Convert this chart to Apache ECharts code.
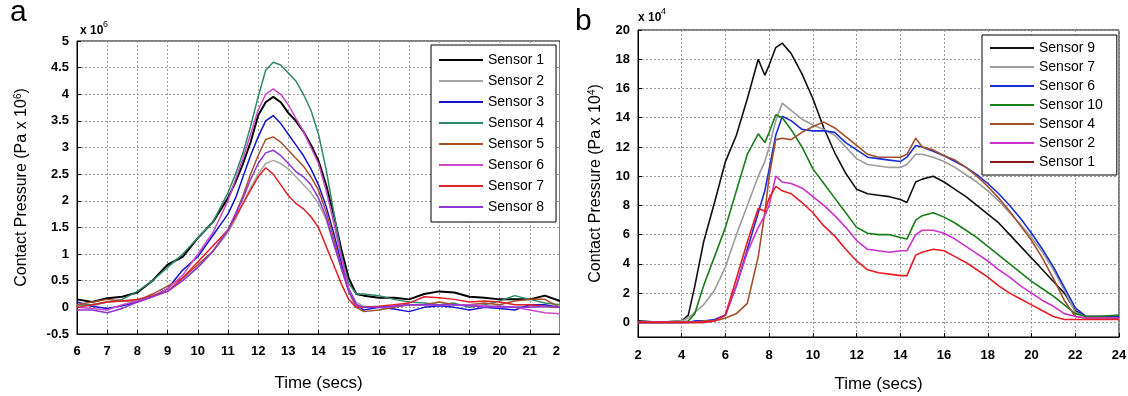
<!DOCTYPE html>
<html><head><meta charset="utf-8">
<script src="https://cdn.jsdelivr.net/npm/echarts@6/dist/echarts.min.js"></script>
<style>
html,body{margin:0;padding:0;background:#fff;width:1128px;height:396px;overflow:hidden;position:relative}
#a{position:absolute;left:0;top:0;width:562px;height:396px}
#b{position:absolute;left:560px;top:0;width:568px;height:396px}
</style>
</head><body><div id="a"></div><div id="b"></div>
<script>
// ---------- Panel a data (Pa x 10^6) ----------
const timeA = [6,6.5,7,7.5,8,8.5,9,9.5,10,10.5,11,11.25,11.5,11.75,12,12.25,12.5,12.75,13,13.25,13.5,13.75,14,14.25,14.5,14.75,15,15.25,15.5,16,16.5,17,17.5,18,18.5,19,19.5,20,20.5,21,21.5,22];
const namesA = ["Sensor 1","Sensor 2","Sensor 3","Sensor 4","Sensor 5","Sensor 6","Sensor 7","Sensor 8"];
const a_s1 = [0.15,0.1,0.17,0.2,0.28,0.5,0.8,0.95,1.3,1.6,2.05,2.35,2.7,3.1,3.6,3.85,3.95,3.85,3.65,3.5,3.3,3.05,2.75,2.3,1.75,1.1,0.55,0.25,0.22,0.18,0.18,0.15,0.25,0.3,0.28,0.2,0.18,0.15,0.15,0.15,0.22,0.12];
const a_s2 = [0.05,0.02,0.1,0.12,0.15,0.2,0.3,0.5,0.75,1.05,1.4,1.65,1.95,2.25,2.5,2.7,2.76,2.7,2.6,2.45,2.3,2.15,1.95,1.65,1.2,0.75,0.35,0.1,0.02,0.0,0.02,0.05,0.05,0.05,0.05,0.05,0.03,0.02,0.0,0.02,0.0,0.0];
const a_s3 = [0.1,0.02,-0.02,0.03,0.1,0.2,0.35,0.7,0.95,1.35,1.75,2.05,2.45,2.85,3.2,3.5,3.6,3.45,3.25,3.05,2.85,2.6,2.3,1.9,1.4,0.85,0.35,0.05,-0.05,0.0,-0.03,-0.08,0.0,0.03,0.0,-0.05,0.0,-0.02,-0.05,0.05,0.05,0.0];
const a_s4 = [0.05,0.05,0.1,0.15,0.3,0.5,0.75,1.0,1.3,1.6,2.15,2.5,2.9,3.4,3.95,4.45,4.6,4.55,4.4,4.25,4.0,3.7,3.25,2.6,1.8,1.0,0.45,0.25,0.25,0.22,0.15,0.1,0.08,0.05,0.08,0.0,0.05,0.12,0.22,0.15,0.08,0.05];
const a_s5 = [0.05,0.1,0.15,0.12,0.12,0.25,0.4,0.55,0.8,1.05,1.45,1.75,2.1,2.5,2.85,3.15,3.2,3.1,2.95,2.8,2.65,2.45,2.2,1.8,1.3,0.75,0.3,0.0,-0.08,-0.05,0.0,0.05,0.05,0.1,0.05,0.05,0.08,0.05,0.12,0.15,0.15,0.0];
const a_s6 = [0.0,-0.02,-0.05,0.05,0.12,0.2,0.35,0.6,1.0,1.4,2.0,2.4,2.8,3.25,3.7,4.0,4.1,4.0,3.8,3.55,3.3,3.0,2.7,2.2,1.6,0.95,0.35,0.05,0.0,0.0,0.02,0.05,0.05,0.05,0.05,0.05,0.03,0.0,0.0,-0.05,-0.1,-0.12];
const a_s7 = [0.0,0.05,0.1,0.12,0.15,0.22,0.3,0.55,0.85,1.15,1.45,1.7,1.95,2.2,2.45,2.62,2.5,2.3,2.1,1.95,1.85,1.7,1.5,1.15,0.8,0.45,0.15,0.0,0.0,0.02,0.05,0.08,0.2,0.18,0.15,0.1,0.12,0.1,0.05,0.05,0.02,0.0];
const a_s8 = [-0.05,-0.05,-0.1,-0.02,0.1,0.2,0.3,0.5,0.75,1.05,1.45,1.75,2.05,2.4,2.7,2.9,2.95,2.85,2.7,2.55,2.45,2.3,2.05,1.7,1.2,0.75,0.3,0.05,0.0,0.0,0.02,0.05,0.05,0.05,0.05,0.03,0.0,0.02,0.0,0.0,0.02,0.0];

// ---------- Panel b data (Pa x 10^4) ----------
const timeB = [2,3,4,4.3,4.6,5,5.5,6,6.5,7,7.5,7.8,8,8.3,8.6,9,9.5,10,10.5,11,11.5,12,12.5,13,13.5,14,14.3,14.7,15,15.5,16,16.5,17,17.5,18,18.5,19,19.5,20,20.5,21,21.5,22,22.5,23,24];
const namesB = ["Sensor 9","Sensor 7","Sensor 6","Sensor 10","Sensor 4","Sensor 2","Sensor 1"];
const b_s9 = [0.1,0.0,0.1,0.5,2.5,5.5,8.2,11.0,12.8,15.3,18.0,16.9,17.6,18.8,19.1,18.4,17.0,15.3,13.3,11.6,10.2,9.1,8.8,8.7,8.6,8.4,8.2,9.6,9.8,10.0,9.6,9.1,8.6,8.0,7.4,6.8,6.0,5.2,4.4,3.6,2.8,2.0,0.8,0.4,0.4,0.4];
const b_s7 = [0.0,0.0,0.1,0.3,0.7,1.2,2.2,3.8,6.0,8.0,10.0,11.0,12.0,13.8,15.0,14.5,13.9,13.5,13.2,12.8,12.0,11.2,10.8,10.7,10.6,10.6,10.8,11.5,11.5,11.3,11.0,10.6,10.1,9.6,9.0,8.3,7.5,6.7,5.8,4.8,3.6,2.2,0.7,0.4,0.4,0.3];
const b_s6 = [0.0,0.0,0.0,0.0,0.1,0.1,0.2,0.5,2.5,5.0,7.5,9.0,10.5,12.8,14.1,13.8,13.2,13.1,13.1,13.0,12.3,11.8,11.3,11.2,11.1,11.0,11.3,12.1,12.0,11.7,11.4,11.0,10.6,10.1,9.5,8.8,8.0,7.1,6.1,5.0,3.8,2.4,1.0,0.4,0.4,0.4];
const b_s10 = [0.0,0.0,0.0,0.1,0.6,2.5,4.5,6.5,9.0,11.5,12.9,12.3,13.0,14.2,14.0,13.2,12.0,10.5,9.5,8.5,7.5,6.5,6.1,6.0,6.0,5.8,5.7,7.0,7.3,7.5,7.2,6.8,6.3,5.8,5.2,4.6,4.0,3.4,2.8,2.3,1.8,1.2,0.6,0.4,0.4,0.5];
const b_s4 = [0.0,0.0,0.0,0.0,0.0,0.1,0.1,0.3,0.6,1.3,4.5,7.5,10.0,12.5,12.6,12.5,13.0,13.4,13.7,13.3,12.7,12.1,11.5,11.3,11.3,11.3,11.5,12.6,12.0,11.8,11.4,11.1,10.6,10.0,9.3,8.5,7.6,6.6,5.6,4.4,3.0,1.5,0.4,0.3,0.3,0.3];
const b_s2 = [0.0,0.0,0.0,0.0,0.0,0.0,0.1,0.5,2.5,4.8,6.5,7.3,8.0,10.0,9.6,9.5,9.2,8.6,8.0,7.3,6.5,5.6,5.0,4.9,4.8,4.9,4.9,6.0,6.3,6.3,6.1,5.7,5.2,4.7,4.2,3.6,3.1,2.5,2.0,1.5,1.1,0.6,0.4,0.3,0.3,0.3];
const b_s1 = [0.0,0.0,0.0,0.0,0.0,0.0,0.1,0.5,3.0,5.5,7.8,7.6,8.5,9.3,9.0,8.8,8.2,7.5,6.6,5.9,5.0,4.2,3.6,3.4,3.3,3.2,3.2,4.6,4.8,5.0,4.9,4.5,4.1,3.6,3.1,2.5,2.0,1.6,1.2,0.8,0.4,0.2,0.2,0.2,0.2,0.2];
const ticksB_y = [0,2,4,6,8,10,12,14,16,18,20];

// ---------- styles ----------
const FONT = "'Liberation Sans', Arial, sans-serif";
const colorsA = ["#000000","#a6a6a6","#1414d2","#2f8a68","#a3502a","#cc48cc","#e3202a","#8e36d6"];
const widthsA = [2,1.5,1.5,1.5,1.5,1.5,1.5,1.5];
const colorsB = ["#111111","#9c9c9c","#1a2ed8","#1a7d1a","#a3502a","#cc33cc","#e81c24"];

function zip(t, v){ return t.map((x,i)=>[x, v[i]]); }

function axisCommon(margin){
  return {
    axisLine:{show:true, onZero:false, lineStyle:{color:'#000', width:1}},
    axisTick:{show:true, inside:true, length:4, lineStyle:{color:'#000'}},
    axisLabel:{color:'#000', fontFamily:FONT, fontSize:13, fontWeight:'bold', margin:margin},
    splitLine:{show:true, lineStyle:{color:'#9a9a9a', width:1, type:[2,2]}}
  };
}

// ---------- Chart a ----------
const chA = echarts.init(document.getElementById('a'), null, {renderer:'canvas'});
const seriesValsA = [a_s1,a_s2,a_s3,a_s4,a_s5,a_s6,a_s7,a_s8];
chA.setOption({
  animation:false,
  backgroundColor:'#fff',
  grid:{left:77, top:41, width:483, height:293, show:true, borderColor:'#000', borderWidth:1,
        backgroundColor:'transparent', outerBoundsMode:'none', containLabel:false},
  xAxis:Object.assign(axisCommon(11), {
    type:'value', min:6, max:22, interval:1,
    name:'Time (secs)', nameLocation:'middle', nameGap:41,
    nameTextStyle:{color:'#000', fontFamily:FONT, fontSize:17}
  }),
  yAxis:Object.assign(axisCommon(8), {
    type:'value', min:-0.5, max:5, interval:0.5,
    name:'Contact Pressure (Pa x 10{sup|6})', nameLocation:'middle', nameGap:46,
    nameTextStyle:{color:'#000', fontFamily:FONT, fontSize:16,
      rich:{sup:{fontSize:10, verticalAlign:'bottom', padding:[0,0,8,0], fontFamily:FONT, color:'#000'}}}
  }),
  legend:{
    data:namesA, orient:'vertical', left:431, top:45,
    itemWidth:44, itemHeight:14, itemGap:7,
    itemStyle:{opacity:0},
    borderColor:'#000', borderWidth:1, padding:[8,12,8,7], backgroundColor:'#fff',
    textStyle:{fontFamily:FONT, fontSize:14, color:'#000'}
  },
  graphic:[
    {type:'text', left:10, top:-2, style:{text:'a', font:'30px '+FONT, fill:'#000'}},
    {type:'text', left:80, top:25, style:{text:'x 10', font:'bold 12px '+FONT, fill:'#000'}},
    {type:'text', left:103, top:20, style:{text:'6', font:'9px '+FONT, fill:'#000'}}
  ],
  series:namesA.map((n,i)=>({
    name:n, type:'line', symbol:'none', showSymbol:false,
    data:zip(timeA, seriesValsA[i]),
    lineStyle:{color:colorsA[i], width:widthsA[i]},
    itemStyle:{color:colorsA[i]}
  }))
});

// ---------- Chart b ----------
const chB = echarts.init(document.getElementById('b'), null, {renderer:'canvas'});
const seriesValsB = [b_s9,b_s7,b_s6,b_s10,b_s4,b_s2,b_s1];
const yB = axisCommon(8);
yB.axisLabel.customValues = ticksB_y;
yB.axisTick.customValues = ticksB_y;
chB.setOption({
  animation:false,
  backgroundColor:'#fff',
  grid:{left:78, top:30, width:481, height:307, show:true, borderColor:'#000', borderWidth:1,
        backgroundColor:'transparent', outerBoundsMode:'none', containLabel:false},
  xAxis:Object.assign(axisCommon(12), {
    type:'value', min:2, max:24, interval:2,
    name:'Time (secs)', nameLocation:'middle', nameGap:39,
    nameTextStyle:{color:'#000', fontFamily:FONT, fontSize:17}
  }),
  yAxis:Object.assign(yB, {
    type:'value', min:-1, max:20,
    name:'Contact Pressure (Pa x 10{sup|4})', nameLocation:'middle', nameGap:33,
    nameTextStyle:{color:'#000', fontFamily:FONT, fontSize:16,
      rich:{sup:{fontSize:10, verticalAlign:'bottom', padding:[0,0,8,0], fontFamily:FONT, color:'#000'}}}
  }),
  legend:{
    data:namesB.map((n,i)=> i===6 ? {name:n, lineStyle:{color:'#8b1a1a'}} : n),
    orient:'vertical', left:422, top:35,
    itemWidth:44, itemHeight:14, itemGap:5,
    itemStyle:{opacity:0},
    borderColor:'#000', borderWidth:1, padding:[6,14,6,7], backgroundColor:'#fff',
    textStyle:{fontFamily:FONT, fontSize:14, color:'#000'}
  },
  graphic:[
    {type:'text', left:15, top:7, style:{text:'b', font:'30px '+FONT, fill:'#000'}},
    {type:'text', left:78, top:12, style:{text:'x 10', font:'bold 12px '+FONT, fill:'#000'}},
    {type:'text', left:101, top:7, style:{text:'4', font:'9px '+FONT, fill:'#000'}}
  ],
  series:namesB.map((n,i)=>({
    name:n, type:'line', symbol:'none', showSymbol:false,
    data:zip(timeB, seriesValsB[i]),
    lineStyle:{color:colorsB[i], width:1.6},
    itemStyle:{color:colorsB[i]}
  }))
});
</script>
</body></html>
